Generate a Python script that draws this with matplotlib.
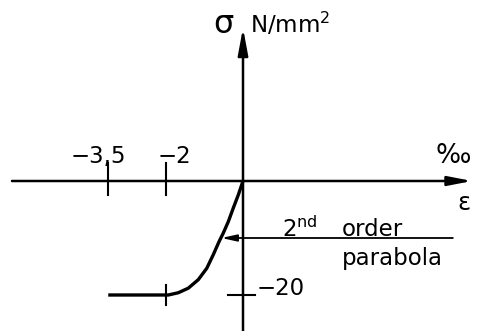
import matplotlib
matplotlib.use("Agg")
import matplotlib.pyplot as plt

# ---- data ----
strain = [-3.5, -2.0, -1.94, -1.68, -1.42, -1.16, -0.94, -0.77, -0.62, -0.51, -0.38, -0.25, -0.12, 0.0]
stress = [-20.0, -20.0, -20.0, -19.6, -18.8, -17.3, -15.3, -12.9, -10.6, -9.1, -7.1, -4.7, -2.4, 0.0]

x_tick_values = [-3.5, -2.0]
x_tick_labels = ["\u22123,5", "\u22122"]
y_tick_values = [-20.0]
y_tick_labels = ["\u221220"]
curve_tick_strain = [-2.0]

x_label = "\u03b5"
x_unit = "\u2030"
y_label = "\u03c3"
y_unit = r"N/mm$^2$"
note_lines = [r"2$^{\rm nd}$", "order", "parabola"]
note_target_stress = -10.0

# ---- figure ----
FS = 16.5
plt.rcParams["mathtext.fontset"] = "dejavusans"
fig = plt.figure(figsize=(4.82, 3.31), dpi=100)
ax = fig.add_axes([0, 0, 1, 1])
ax.set_xlim(-243 / 38.5, (482 - 243) / 38.5)
ax.set_ylim(-(331 - 181) / 5.7, 181 / 5.7)
ax.axis("off")

k = "black"
# axes with arrows
ax.annotate("", xy=(5.95, 0), xytext=(-6.0, 0),
            arrowprops=dict(arrowstyle="-|>,head_length=0.72,head_width=0.14",
                            mutation_scale=20, lw=1.8, color=k, shrinkA=0, shrinkB=0))
ax.annotate("", xy=(0, 26.84), xytext=(0, -27),
            arrowprops=dict(arrowstyle="-|>,head_length=0.8,head_width=0.15",
                            mutation_scale=20, lw=1.8, color=k, shrinkA=0, shrinkB=0))

# curve
ax.plot(strain, stress, color=k, lw=2.4, solid_capstyle="butt", solid_joinstyle="round")

# ticks on the strain axis
for v in x_tick_values:
    ax.plot([v, v], [3.16, -2.46], color=k, lw=1.5)
lab_left = {-3.5: -4.49, -2.0: -2.23}
for v, lab in zip(x_tick_values, x_tick_labels):
    ax.text(lab_left[v], 3.16, lab, fontsize=FS, ha="left", va="baseline", color=k)

# ticks on the stress axis
for v, lab in zip(y_tick_values, y_tick_labels):
    ax.plot([-0.39, 0.31], [v, v], color=k, lw=1.5)
    ax.text(0.36, v, lab, fontsize=FS, ha="left", va="baseline", color=k)

# tick on the curve
for v in curve_tick_strain:
    ax.plot([v, v], [-18.2, -21.8], color=k, lw=1.5)

# axis labels
ax.text(-0.78, 26.0, y_label, fontsize=23, ha="left", va="baseline", color=k)
ax.text(0.18, 26.0, y_unit, fontsize=FS, ha="left", va="baseline", color=k)
ax.text(5.0, 3.16, x_unit, fontsize=19, ha="left", va="baseline", color=k)
ax.text(5.58, -5.09, x_label, fontsize=FS + 1, ha="left", va="baseline", color=k)

# annotation
ax.annotate("", xy=(-0.56, note_target_stress), xytext=(5.45, note_target_stress),
            arrowprops=dict(arrowstyle="-|>,head_length=0.45,head_width=0.1",
                            mutation_scale=20, lw=1.3, color=k, shrinkA=0, shrinkB=0))
ax.text(1.01, -9.82, note_lines[0], fontsize=FS, ha="left", va="baseline", color=k)
ax.text(2.57, -9.65, note_lines[1], fontsize=FS, ha="left", va="baseline", color=k)
ax.text(2.57, -14.74, note_lines[2], fontsize=FS, ha="left", va="baseline", color=k)

fig.savefig("out.png", dpi=100, facecolor="white")
